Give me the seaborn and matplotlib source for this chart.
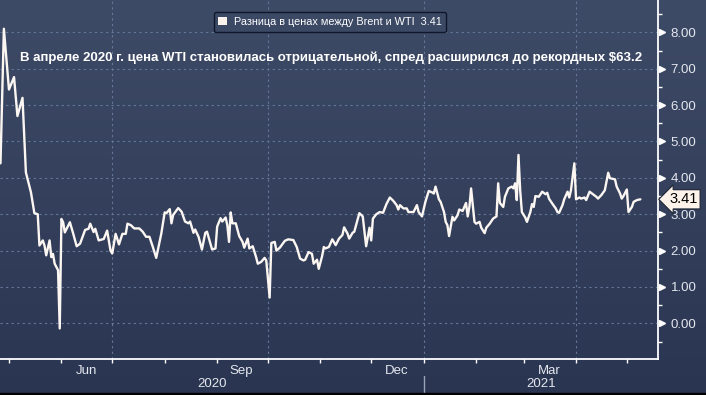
import numpy as np
import pandas as pd
import matplotlib
matplotlib.use("Agg")
import matplotlib.pyplot as plt
import matplotlib.dates as mdates
import matplotlib.transforms as mtransforms
from matplotlib.patches import Patch, Rectangle
from matplotlib.colors import LinearSegmentedColormap
from matplotlib.ticker import MultipleLocator, FixedLocator, NullFormatter
import seaborn as sns

# ---------------- data ----------------
base_date = "2020-05-01"
day_offset = [
    -5, -3, 0, 3, 5, 8, 10, 13, 15, 17, 18, 20, 21, 22, 24, 25, 26, 27, 29, 30,
    31, 32, 33, 36, 38, 40, 42, 45, 47, 48, 50, 51, 53, 56, 58, 60, 61, 63, 64, 65,
    67, 69, 70,
    72, 74, 77, 79, 81, 83, 85, 87, 89, 90, 92, 93, 95, 96, 97, 100, 102, 104, 106, 107,
    109, 110, 112, 114, 116, 117, 119, 120, 122, 123, 125, 126, 128, 129, 130, 131, 132, 134, 136,
    138, 139, 141, 142, 144, 146, 147, 149, 151, 152, 154, 155, 157, 158, 160, 163, 165, 168,
    170, 172, 174, 175, 177, 179, 180, 182, 183, 185, 186, 187, 189, 191, 193, 195, 197, 198,
    200, 201, 203, 204, 206, 207, 209,
    211, 213, 214, 215, 217, 219, 221, 223, 225, 227, 229, 230, 231, 233, 235, 236, 239, 241,
    242, 244, 246, 248, 250, 251, 252, 254, 255, 257, 258, 259, 260, 262, 263, 265, 266, 268,
    270, 271, 272, 273, 275, 276, 278, 279, 281,
    282, 284, 286, 288, 289, 290, 292, 293, 295, 297, 298, 299, 300, 301, 302, 303, 305, 306,
    308, 309, 310, 311, 313, 315, 317, 318, 319, 321, 323, 324, 325, 327, 328, 330, 331, 332,
    334, 335, 337, 338, 340, 341, 343, 345, 347, 348, 350, 352, 354, 355, 358, 359, 361, 362,
    363, 365, 366, 368, 369, 371, 373,
]
spread = [
    4.4, 8.1, 6.43, 6.77, 5.7, 6.2, 4.15, 3.6, 3.03, 3.0, 2.14, 2.28, 2.14, 1.87, 2.28, 1.82,
    1.91, 1.64, 1.46, -0.14, 2.87, 2.78, 2.5, 2.78, 2.46, 2.12, 2.19, 2.57, 2.6, 2.74, 2.51,
    2.6, 2.28, 2.32, 2.55, 2.0, 1.92, 2.46, 2.32, 2.17, 2.46, 2.46, 2.74,
    2.70, 2.61, 2.61, 2.52, 2.38, 2.38, 2.10, 1.80, 2.24, 2.47, 3.05, 3.03, 3.14, 2.75, 2.98,
    3.17, 3.07, 2.80, 2.75, 2.80, 2.49, 2.58, 2.38, 2.03, 2.49, 2.52, 2.19, 2.03, 2.06, 2.66,
    2.89, 2.80, 2.91, 2.70, 2.24, 3.05, 2.75, 2.75, 2.40,
    2.24, 2.08, 2.33, 2.06, 2.12, 1.82, 1.64, 1.69, 1.80, 1.73, 0.71, 2.21, 2.24, 2.0, 2.08,
    2.27, 2.31, 2.29, 2.10, 1.78, 1.73, 1.75, 1.96, 1.91, 1.64, 1.75, 1.5, 1.85, 2.10, 2.06,
    2.10, 2.31, 2.15, 2.33, 2.43, 2.64, 2.47, 2.33, 2.49, 2.52, 2.86, 3.03, 2.94,
    2.12, 2.63, 2.28, 2.88, 3.0, 3.06, 3.04, 3.28, 3.46, 3.37, 3.25, 3.13, 3.25, 3.16, 3.16,
    3.06, 3.06, 3.25, 3.06, 2.94, 3.34, 3.64, 3.60, 3.57, 3.76, 3.41, 3.34, 3.06, 2.79, 2.70,
    2.4, 2.93, 2.83, 2.97, 3.13, 3.09, 3.31, 2.94, 3.20, 3.71, 2.79, 2.74, 2.79, 2.63, 2.48,
    2.63, 2.74, 2.88, 2.94, 3.85, 3.31, 3.2, 3.48, 3.71, 3.76, 3.71, 3.85, 3.39, 4.63, 3.66,
    3.06, 2.91, 2.79, 3.06, 3.28, 3.20, 3.5, 3.48, 3.62, 3.55, 3.59, 3.43, 3.29, 3.16, 3.06,
    3.04, 3.25, 3.41, 3.62, 3.46, 3.66, 4.4, 3.41, 3.46, 3.43, 3.46, 3.39, 3.62, 3.55, 3.48,
    3.43, 3.53, 3.66, 4.14, 3.99, 3.96, 3.76, 3.57, 3.43, 3.50, 3.68, 3.06, 3.20, 3.34, 3.39,
    3.41,
]
last_value = 3.41
series_label = "Разница в ценах между Brent и WTI"
title_text = ("В апреле 2020 г. цена WTI становилась отрицательной, "
              "спред расширился до рекордных $63.2")
y_ticks = [0, 1, 2, 3, 4, 5, 6, 7, 8]
month_labels = ["Jun", "Sep", "Dec", "Mar"]
month_label_dates = ["2020-06-16", "2020-09-15", "2020-12-16", "2021-03-16"]
year_labels = ["2020", "2021"]
year_break = "2021-01-01"
quarter_grid_dates = ["2020-07-01", "2020-10-01", "2021-01-01", "2021-04-01"]
x_start = "2020-04-25 17:00"
x_end = "2021-05-19 10:00"

# ---------------- style ----------------
sns.set_theme(style="dark")
plt.rcParams["font.family"] = ["Liberation Sans", "DejaVu Sans"]

df = pd.DataFrame({
    "date": pd.Timestamp(base_date) + pd.to_timedelta(day_offset, unit="D"),
    "spread": spread,
})

W, H = 706, 395
fig = plt.figure(figsize=(W / 100, H / 100), dpi=100)

# gradient background
bg = fig.add_axes([0, 0, 1, 1], zorder=-10)
cmap = LinearSegmentedColormap.from_list("bg", ["#3e4b67", "#2a3551"])
bg.imshow(np.linspace(0, 1, 256).reshape(-1, 1), aspect="auto", cmap=cmap,
          extent=[0, 1, 0, 1])
bg.axis("off")

ax = fig.add_axes([0, 36 / H, 658 / W, 359 / H])
ax.set_facecolor("none")
ax.patch.set_alpha(0)

sns.lineplot(data=df, x="date", y="spread", ax=ax, color="#fbf6f1",
             linewidth=1.7, legend=False, zorder=5)

ax.set_xlim(pd.Timestamp(x_start), pd.Timestamp(x_end))
ax.set_ylim(-0.98, 8.89)
ax.set_xlabel("")
ax.set_ylabel("")

grid_color = "#66789a"
ax.set_yticks(y_ticks)
ax.yaxis.grid(True, color=grid_color, linestyle=(0, (2, 3)), linewidth=0.8)
ax.xaxis.grid(False)
for d in quarter_grid_dates:
    ax.axvline(pd.Timestamp(d), color=grid_color, linestyle=(0, (2, 3)),
               linewidth=0.8, zorder=1)

for s in ["left", "top"]:
    ax.spines[s].set_visible(False)
for s in ["right", "bottom"]:
    ax.spines[s].set_visible(True)
    ax.spines[s].set_color("white")
    ax.spines[s].set_linewidth(1.3)

# y axis on right
label_color = "#e4e7ee"
ax.yaxis.tick_right()
ax.set_yticklabels([f"{v:.2f}" for v in y_ticks])
ax.yaxis.set_minor_locator(MultipleLocator(0.5))
ax.tick_params(axis="y", which="major", length=0, pad=9, labelsize=9.5,
               labelcolor=label_color)
ax.tick_params(axis="y", which="minor", right=True, length=3, width=1,
               color="white", direction="out")
tri_trans = mtransforms.offset_copy(
    mtransforms.blended_transform_factory(ax.transAxes, ax.transData),
    fig=fig, x=4, y=0, units="dots")
ax.plot([1] * len(y_ticks), y_ticks, transform=tri_trans, marker=">",
        linestyle="none", markersize=5, color="white", clip_on=False)

# x axis
ax.xaxis.set_major_locator(mdates.MonthLocator())
ax.xaxis.set_major_formatter(NullFormatter())
ax.xaxis.set_minor_locator(FixedLocator(mdates.date2num(pd.to_datetime(month_label_dates))))
ax.xaxis.set_minor_formatter(matplotlib.ticker.FixedFormatter(month_labels))
ax.tick_params(axis="x", which="major", bottom=True, length=3, width=1,
               color="white", direction="out")
ax.tick_params(axis="x", which="minor", bottom=True, length=0, pad=4,
               labelsize=9.5, labelcolor=label_color)

# year labels
xl = mdates.date2num(pd.Timestamp(x_start))
xr = mdates.date2num(pd.Timestamp(x_end))
xb = mdates.date2num(pd.Timestamp(year_break))
ytrans = mtransforms.blended_transform_factory(ax.transData, ax.transAxes)
for lab, xc in zip(year_labels, [(xl + xb) / 2, (xb + xr) / 2]):
    ax.text(xc, -25 / 359, lab, transform=ytrans, ha="center", va="center",
            fontsize=9.5, color=label_color)
ax.axvline(pd.Timestamp(year_break), ymin=-34 / 359, ymax=-17 / 359,
           color="#9aa3b5", linewidth=1, clip_on=False)

# last value tag
ax.annotate(f"{last_value:.2f}", xy=(1, last_value),
            xycoords=mtransforms.blended_transform_factory(ax.transAxes, ax.transData),
            xytext=(8, 0), textcoords="offset points", ha="left", va="center",
            fontsize=10.5, color="black",
            bbox=dict(boxstyle="larrow,pad=0.18", fc="#fdf3ea", ec="#1b2233", lw=0.8),
            zorder=10, annotation_clip=False)

# legend
handles = [Patch(facecolor="#fbf3ec", edgecolor="none")]
fig.legend(handles, [f"{series_label}  {last_value:.2f}"], loc="center",
           bbox_to_anchor=(330 / W, 1 - 22 / H), frameon=True, fancybox=True,
           facecolor="#3c4965", edgecolor="#11172a", framealpha=1,
           fontsize=7.8, labelcolor="white", handlelength=0.8, handleheight=0.8,
           handletextpad=0.6, borderpad=0.45)

# title
fig.text(20 / W, 1 - 58 / H, title_text, fontsize=9.55, fontweight="bold",
         color="white", ha="left", va="center")

# bottom black strip
fig.add_artist(Rectangle((0, 0), 1, 2.5 / H, transform=fig.transFigure,
                         color="black", zorder=20))

fig.savefig("out.png", dpi=100)
